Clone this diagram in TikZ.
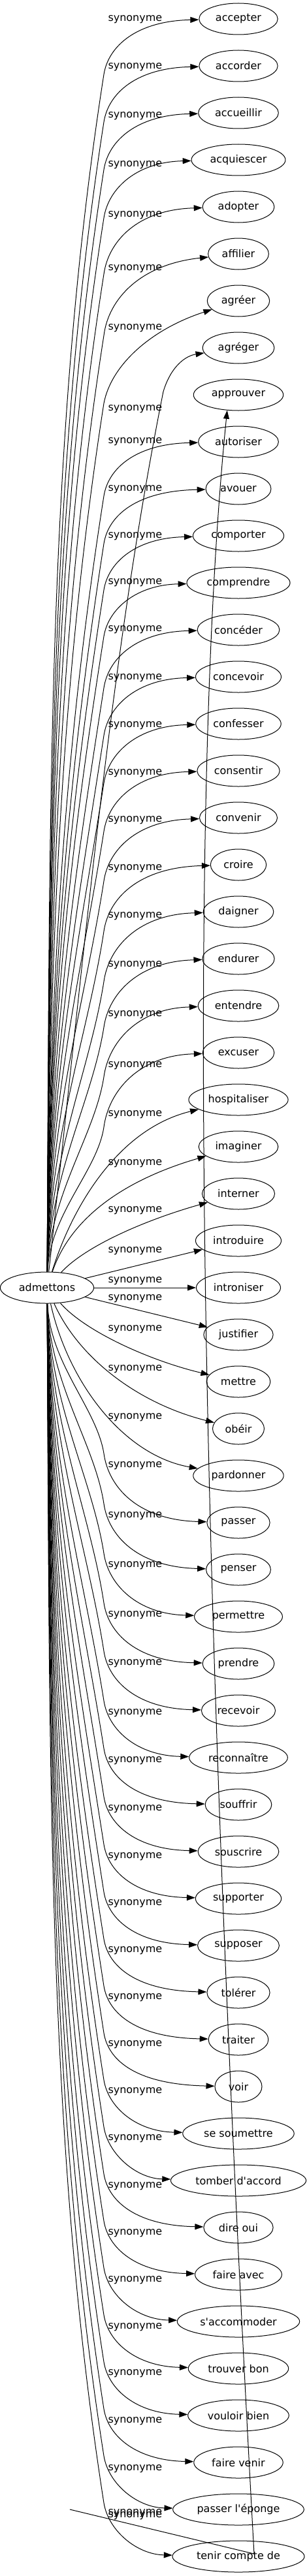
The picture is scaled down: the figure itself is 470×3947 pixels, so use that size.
\documentclass[tikz,border=0pt]{standalone}
\usepackage{fontspec}
\newfontfamily\dejavu{DejaVu Sans}
\usetikzlibrary{shapes.geometric,arrows.meta}

\begin{document}
\begin{tikzpicture}[x=1pt,y=-1pt,font={\dejavu\fontsize{16}{19}\selectfont},
	syn/.style={draw, ellipse, line width=1pt, minimum width=72pt, minimum height=48pt, inner xsep=7.5pt},
	link/.style={line width=1pt, -{Triangle[length=13pt,width=9pt]}},
	lbl/.style={anchor=west, inner sep=0pt}]
			\useasboundingbox (0,0) rectangle (470,3947);
			\node[syn] (admettons) at (72,1973) {admettons};
			\node[syn] (accepter) at (365,29) {accepter};
			\node[syn] (accorder) at (365,101) {accorder};
			\node[syn] (accueillir) at (365,173) {accueillir};
			\node[syn] (acquiescer) at (365,245) {acquiescer};
			\node[syn] (adopter) at (365,317) {adopter};
			\node[syn] (affilier) at (365,389) {affilier};
			\node[syn] (agreer) at (365,461) {agréer};
			\node[syn] (agreger) at (365,533) {agréger};
			\node[syn] (approuver) at (365,605) {approuver};
			\node[syn] (autoriser) at (365,677) {autoriser};
			\node[syn] (avouer) at (365,749) {avouer};
			\node[syn] (comporter) at (365,821) {comporter};
			\node[syn] (comprendre) at (365,893) {comprendre};
			\node[syn] (conceder) at (365,965) {concéder};
			\node[syn] (concevoir) at (365,1037) {concevoir};
			\node[syn] (confesser) at (365,1109) {confesser};
			\node[syn] (consentir) at (365,1181) {consentir};
			\node[syn] (convenir) at (365,1253) {convenir};
			\node[syn] (croire) at (365,1325) {croire};
			\node[syn] (daigner) at (365,1397) {daigner};
			\node[syn] (endurer) at (365,1469) {endurer};
			\node[syn] (entendre) at (365,1541) {entendre};
			\node[syn] (excuser) at (365,1613) {excuser};
			\node[syn] (hospitaliser) at (365,1685) {hospitaliser};
			\node[syn] (imaginer) at (365,1757) {imaginer};
			\node[syn] (interner) at (365,1829) {interner};
			\node[syn] (introduire) at (365,1901) {introduire};
			\node[syn] (introniser) at (365,1973) {introniser};
			\node[syn] (justifier) at (365,2045) {justifier};
			\node[syn] (mettre) at (365,2117) {mettre};
			\node[syn] (obeir) at (365,2189) {obéir};
			\node[syn] (pardonner) at (365,2261) {pardonner};
			\node[syn] (passer) at (365,2333) {passer};
			\node[syn] (penser) at (365,2405) {penser};
			\node[syn] (permettre) at (365,2477) {permettre};
			\node[syn] (prendre) at (365,2549) {prendre};
			\node[syn] (recevoir) at (365,2621) {recevoir};
			\node[syn] (reconnaitre) at (365,2693) {reconnaître};
			\node[syn] (souffrir) at (365,2765) {souffrir};
			\node[syn] (souscrire) at (365,2837) {souscrire};
			\node[syn] (supporter) at (365,2909) {supporter};
			\node[syn] (supposer) at (365,2981) {supposer};
			\node[syn] (tolerer) at (365,3053) {tolérer};
			\node[syn] (traiter) at (365,3125) {traiter};
			\node[syn] (voir) at (365,3197) {voir};
			\node[syn] (soumettre) at (365,3269) {se soumettre};
			\node[syn] (tomber) at (365,3341) {tomber d'accord};
			\node[syn] (direoui) at (365,3413) {dire oui};
			\node[syn] (faireavec) at (365,3485) {faire avec};
			\node[syn] (accommoder) at (365,3557) {s'accommoder};
			\node[syn] (trouverbon) at (365,3629) {trouver bon};
			\node[syn] (vouloirbien) at (365,3701) {vouloir bien};
			\node[syn] (fairevenir) at (365,3773) {faire venir};
			\node[syn] (eponge) at (365,3845) {passer l'éponge};
			\node[syn] (tenircompte) at (365,3917) {tenir compte de};
			\coordinate (apstart) at (107,3845);
			\coordinate (apbend) at (389,3913);
			\draw[link] (admettons) .. controls (76,1215) and (73,664) .. (159,114) .. controls (166,70) and (210,32) .. (accepter) node[lbl] (l-accepter) at (165,30) {synonyme};
			\draw[link] (admettons) .. controls (76,1244) and (77,716) .. (159,187) .. controls (166,142) and (210,104) .. (accorder) node[lbl] (l-accorder) at (165,103) {synonyme};
			\draw[link] (admettons) .. controls (76,1273) and (80,767) .. (159,260) .. controls (166,215) and (210,176) .. (accueillir) node[lbl] (l-accueillir) at (165,178) {synonyme};
			\draw[link] (admettons) .. controls (76,1303) and (83,818) .. (159,334) .. controls (166,288) and (210,248) .. (acquiescer) node[lbl] (l-acquiescer) at (165,253) {synonyme};
			\draw[link] (admettons) .. controls (76,1337) and (87,879) .. (159,420) .. controls (166,370) and (210,321) .. (adopter) node[lbl] (l-adopter) at (165,330) {synonyme};
			\draw[link] (admettons) .. controls (76,1375) and (92,944) .. (159,514) .. controls (166,458) and (215,405) .. (affilier) node[lbl] (l-affilier) at (165,412) {synonyme};
			\draw[link] (admettons) .. controls (76,1417) and (97,1017) .. (159,618) .. controls (170,560) and (230,505) .. (agreer) node[lbl] (l-agreer) at (165,503) {synonyme};
			\draw[link] (admettons) .. controls (130,1450) and (170,1000) .. (250,600) .. controls (262,560) and (285,545) .. (agreger) node[lbl] (l-agreger) at (165,627) {synonyme};
			\draw[link] (apstart) -- (apbend) .. controls (300,2300) and (290,1200) .. (approuver.234) node[lbl] (l-approuver) at (165,3851) {synonyme};
			\draw[link] (admettons) .. controls (76,1473) and (103,1117) .. (159,760) .. controls (166,716) and (210,680) .. (autoriser) node[lbl] (l-autoriser) at (165,677) {synonyme};
			\draw[link] (admettons) .. controls (76,1503) and (107,1168) .. (159,833) .. controls (166,789) and (210,752) .. (avouer) node[lbl] (l-avouer) at (165,750) {synonyme};
			\draw[link] (admettons) .. controls (76,1531) and (110,1218) .. (159,904) .. controls (166,860) and (210,824) .. (comporter) node[lbl] (l-comporter) at (165,822) {synonyme};
			\draw[link] (admettons) .. controls (76,1559) and (113,1267) .. (159,975) .. controls (166,932) and (210,896) .. (comprendre) node[lbl] (l-comprendre) at (165,893) {synonyme};
			\draw[link] (admettons) .. controls (76,1591) and (117,1323) .. (159,1054) .. controls (166,1008) and (210,968) .. (conceder) node[lbl] (l-conceder) at (165,965) {synonyme};
			\draw[link] (admettons) .. controls (76,1620) and (121,1374) .. (159,1127) .. controls (166,1081) and (210,1040) .. (concevoir) node[lbl] (l-concevoir) at (165,1039) {synonyme};
			\draw[link] (admettons) .. controls (76,1649) and (124,1425) .. (159,1200) .. controls (166,1154) and (210,1112) .. (confesser) node[lbl] (l-confesser) at (165,1112) {synonyme};
			\draw[link] (admettons) .. controls (76,1679) and (127,1477) .. (159,1274) .. controls (166,1227) and (210,1184) .. (consentir) node[lbl] (l-consentir) at (165,1185) {synonyme};
			\draw[link] (admettons) .. controls (76,1709) and (131,1530) .. (159,1350) .. controls (166,1302) and (210,1257) .. (convenir) node[lbl] (l-convenir) at (165,1257) {synonyme};
			\draw[link] (admettons) .. controls (76,1740) and (135,1584) .. (159,1427) .. controls (166,1378) and (210,1329) .. (croire) node[lbl] (l-croire) at (165,1331) {synonyme};
			\draw[link] (admettons) .. controls (76,1771) and (138,1638) .. (159,1504) .. controls (166,1453) and (210,1401) .. (daigner) node[lbl] (l-daigner) at (165,1404) {synonyme};
			\draw[link] (admettons) .. controls (76,1799) and (141,1687) .. (159,1574) .. controls (166,1524) and (210,1473) .. (endurer) node[lbl] (l-endurer) at (165,1479) {synonyme};
			\draw[link] (admettons) .. controls (76,1829) and (145,1740) .. (159,1650) .. controls (166,1598) and (210,1545) .. (entendre) node[lbl] (l-entendre) at (165,1555) {synonyme};
			\draw[link] (admettons) .. controls (76,1860) and (149,1794) .. (159,1727) .. controls (166,1674) and (210,1617) .. (excuser) node[lbl] (l-excuser) at (165,1633) {synonyme};
			\draw[link] (admettons) .. controls (110,1850) and (180,1730) .. (hospitaliser) node[lbl] (l-hospitaliser) at (165,1708) {synonyme};
			\draw[link] (admettons) .. controls (110,1860) and (200,1805) .. (imaginer) node[lbl] (l-imaginer) at (165,1783) {synonyme};
			\draw[link] (admettons) .. controls (130,1910) and (220,1870) .. (interner) node[lbl] (l-interner) at (165,1855) {synonyme};
			\draw[link] (admettons) -- (introduire) node[lbl] (l-introduire) at (165,1917) {synonyme};
			\draw[link] (admettons) -- (introniser) node[lbl] (l-introniser) at (165,1963) {synonyme};
			\draw[link] (admettons) -- (justifier) node[lbl] (l-justifier) at (165,1990) {synonyme};
			\draw[link] (admettons) .. controls (130,2040) and (230,2085) .. (mettre) node[lbl] (l-mettre) at (165,2037) {synonyme};
			\draw[link] (admettons) .. controls (120,2080) and (210,2150) .. (obeir) node[lbl] (l-obeir) at (165,2098) {synonyme};
			\draw[link] (admettons) .. controls (105,2120) and (190,2230) .. (pardonner) node[lbl] (l-pardonner) at (165,2172) {synonyme};
			\draw[link] (admettons) .. controls (76,2089) and (148,2158) .. (159,2227) .. controls (166,2278) and (210,2329) .. (passer) node[lbl] (l-passer) at (165,2246) {synonyme};
			\draw[link] (admettons) .. controls (76,2120) and (145,2212) .. (159,2304) .. controls (166,2353) and (210,2401) .. (penser) node[lbl] (l-penser) at (165,2323) {synonyme};
			\draw[link] (admettons) .. controls (76,2150) and (141,2265) .. (159,2380) .. controls (166,2428) and (210,2473) .. (permettre) node[lbl] (l-permettre) at (165,2399) {synonyme};
			\draw[link] (admettons) .. controls (76,2181) and (138,2318) .. (159,2456) .. controls (166,2503) and (210,2546) .. (prendre) node[lbl] (l-prendre) at (165,2475) {synonyme};
			\draw[link] (admettons) .. controls (76,2210) and (134,2370) .. (159,2530) .. controls (166,2576) and (210,2618) .. (recevoir) node[lbl] (l-recevoir) at (165,2549) {synonyme};
			\draw[link] (admettons) .. controls (76,2241) and (130,2423) .. (159,2606) .. controls (166,2651) and (210,2690) .. (reconnaitre) node[lbl] (l-reconnaitre) at (165,2625) {synonyme};
			\draw[link] (admettons) .. controls (76,2270) and (127,2474) .. (159,2679) .. controls (166,2724) and (210,2762) .. (souffrir) node[lbl] (l-souffrir) at (165,2698) {synonyme};
			\draw[link] (admettons) .. controls (76,2299) and (124,2526) .. (159,2753) .. controls (166,2797) and (210,2834) .. (souscrire) node[lbl] (l-souscrire) at (165,2772) {synonyme};
			\draw[link] (admettons) .. controls (76,2329) and (120,2577) .. (159,2826) .. controls (166,2870) and (210,2906) .. (supporter) node[lbl] (l-supporter) at (165,2845) {synonyme};
			\draw[link] (admettons) .. controls (76,2358) and (117,2628) .. (159,2899) .. controls (166,2942) and (210,2978) .. (supposer) node[lbl] (l-supposer) at (165,2917) {synonyme};
			\draw[link] (admettons) .. controls (76,2387) and (113,2679) .. (159,2971) .. controls (166,3014) and (210,3050) .. (tolerer) node[lbl] (l-tolerer) at (165,2989) {synonyme};
			\draw[link] (admettons) .. controls (76,2415) and (110,2729) .. (159,3043) .. controls (166,3086) and (210,3122) .. (traiter) node[lbl] (l-traiter) at (165,3061) {synonyme};
			\draw[link] (admettons) .. controls (76,2444) and (107,2780) .. (159,3115) .. controls (166,3158) and (210,3194) .. (voir) node[lbl] (l-voir) at (165,3133) {synonyme};
			\draw[link] (admettons) .. controls (76,2473) and (103,2830) .. (159,3187) .. controls (166,3230) and (210,3266) .. (soumettre) node[lbl] (l-soumettre) at (165,3205) {synonyme};
			\draw[link] (admettons) .. controls (76,2502) and (100,2880) .. (159,3259) .. controls (166,3302) and (210,3338) .. (tomber) node[lbl] (l-tomber) at (165,3277) {synonyme};
			\draw[link] (admettons) .. controls (76,2531) and (97,2931) .. (159,3331) .. controls (166,3374) and (210,3410) .. (direoui) node[lbl] (l-direoui) at (165,3350) {synonyme};
			\draw[link] (admettons) .. controls (76,2559) and (93,2981) .. (159,3403) .. controls (166,3446) and (210,3482) .. (faireavec) node[lbl] (l-faireavec) at (165,3422) {synonyme};
			\draw[link] (admettons) .. controls (76,2588) and (90,3032) .. (159,3475) .. controls (166,3518) and (210,3554) .. (accommoder) node[lbl] (l-accommoder) at (165,3494) {synonyme};
			\draw[link] (admettons) .. controls (76,2617) and (86,3082) .. (159,3547) .. controls (166,3590) and (210,3626) .. (trouverbon) node[lbl] (l-trouverbon) at (165,3566) {synonyme};
			\draw[link] (admettons) .. controls (76,2646) and (83,3132) .. (159,3619) .. controls (166,3662) and (210,3698) .. (vouloirbien) node[lbl] (l-vouloirbien) at (165,3637) {synonyme};
			\draw[link] (admettons) .. controls (76,2675) and (80,3183) .. (159,3691) .. controls (166,3734) and (210,3770) .. (fairevenir) node[lbl] (l-fairevenir) at (165,3710) {synonyme};
			\draw[link] (admettons) .. controls (76,2703) and (76,3233) .. (159,3763) .. controls (166,3806) and (210,3842) .. (eponge) node[lbl] (l-eponge) at (165,3783) {synonyme};
			\draw[link] (admettons) .. controls (76,2732) and (73,3284) .. (159,3835) .. controls (166,3878) and (210,3914) .. (tenircompte) node[lbl] (l-tenircompte) at (165,3855) {synonyme};
\end{tikzpicture}
\end{document}
